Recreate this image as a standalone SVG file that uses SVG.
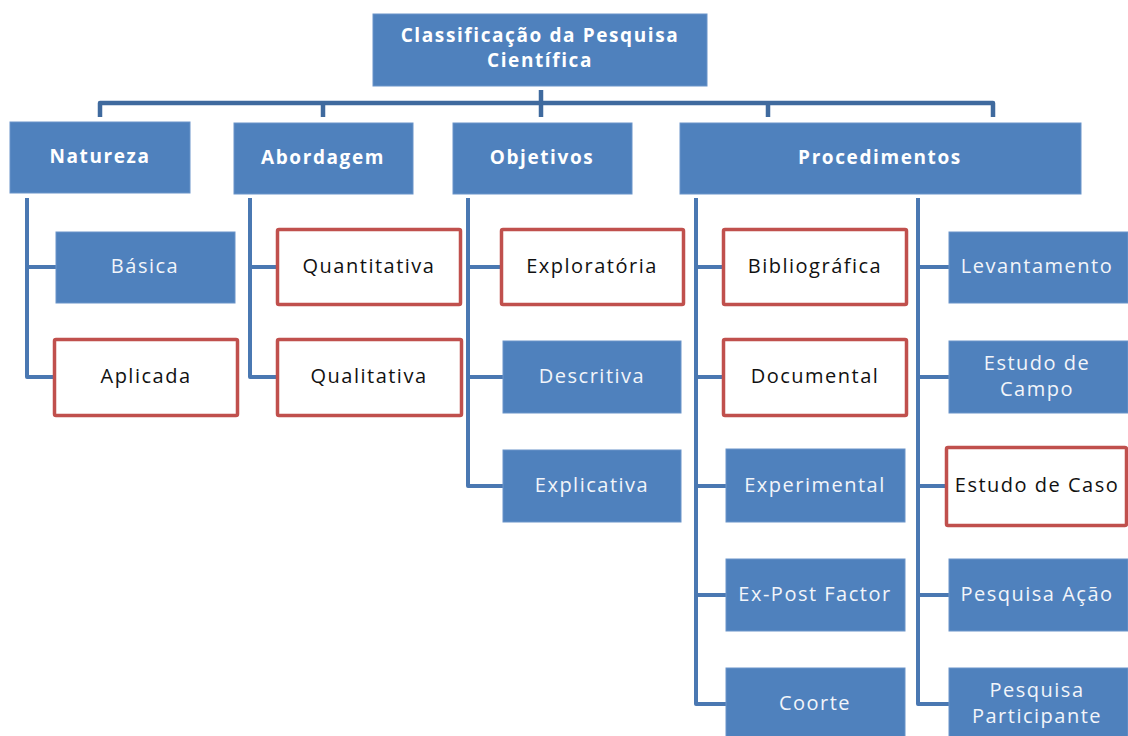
<svg xmlns="http://www.w3.org/2000/svg" width="1128" height="736" viewBox="0 0 1128 736">
<style>
.bx{fill:#4F81BD;stroke:#6A94C9;stroke-width:1}
.rb{fill:#FFFFFF;stroke:#C0504D;stroke-width:3.5}
.hd{font-family:"Open Sans","Liberation Sans",sans-serif;font-weight:bold;font-size:19px;letter-spacing:1.6px;fill:#FFFFFF;text-anchor:middle}
.wt{font-family:"Open Sans","Liberation Sans",sans-serif;font-size:20px;letter-spacing:1.5px;fill:#F2F5FA;text-anchor:middle}
.bt{font-family:"Open Sans","Liberation Sans",sans-serif;font-size:20px;letter-spacing:1.5px;fill:#111111;text-anchor:middle}
.cn{fill:none;stroke:#4A78B2;stroke-width:4;stroke-linejoin:round}
.bus{fill:none;stroke:#3F6A9E;stroke-width:4.5;stroke-linejoin:round}
</style>
<rect width="1128" height="736" fill="#FFFFFF"/>
<g id="connectors">
<path class="bus" d="M541 90 V117"/>
<path class="bus" d="M100 117 V103 H993 V117"/>
<path class="bus" d="M323 103 V117 M768 103 V117"/>
<path class="cn" d="M27 198 V377 H53 M27 267 H56"/>
<path class="cn" d="M250 198 V377 H276 M250 267 H276"/>
<path class="cn" d="M468 198 V486 H503 M468 267 H500 M468 377 H503"/>
<path class="cn" d="M696 198 V704 H726 M696 267 H722 M696 377 H722 M696 486 H726 M696 595 H726"/>
<path class="cn" d="M918 198 V704 H949 M918 267 H949 M918 377 H949 M918 486 H945 M918 595 H949"/>
</g>
<g id="root"><rect class="bx" x="373" y="14" width="334" height="72"/><text class="hd" x="540" y="42">Classificação da Pesquisa</text><text class="hd" x="540" y="67">Científica</text></g>
<g id="natureza"><rect class="bx" x="10" y="122" width="180" height="71"/><text class="hd" x="100" y="163">Natureza</text></g>
<g id="abordagem"><rect class="bx" x="234" y="123" width="179" height="71"/><text class="hd" x="323" y="164">Abordagem</text></g>
<g id="objetivos"><rect class="bx" x="453" y="123" width="179" height="71"/><text class="hd" x="542" y="164">Objetivos</text></g>
<g id="procedimentos"><rect class="bx" x="680" y="123" width="401" height="71"/><text class="hd" x="880" y="164">Procedimentos</text></g>
<g id="basica"><rect class="bx" x="56" y="232" width="179" height="71"/><text class="wt" x="145" y="273">Básica</text></g>
<g id="aplicada"><rect class="rb" x="54.5" y="339.5" width="183" height="76" rx="1.5"/><text class="bt" x="146" y="383">Aplicada</text></g>
<g id="quantitativa"><rect class="rb" x="277.5" y="229.5" width="183" height="75" rx="1.5"/><text class="bt" x="369" y="273">Quantitativa</text></g>
<g id="qualitativa"><rect class="rb" x="277.5" y="339.5" width="184" height="76" rx="1.5"/><text class="bt" x="369" y="383">Qualitativa</text></g>
<g id="exploratoria"><rect class="rb" x="501.5" y="229.5" width="182" height="75" rx="1.5"/><text class="bt" x="592" y="273">Exploratória</text></g>
<g id="descritiva"><rect class="bx" x="503" y="341" width="178" height="72"/><text class="wt" x="592" y="383">Descritiva</text></g>
<g id="explicativa"><rect class="bx" x="503" y="450" width="178" height="72"/><text class="wt" x="592" y="492">Explicativa</text></g>
<g id="bibliografica"><rect class="rb" x="723.5" y="229.5" width="183" height="75" rx="1.5"/><text class="bt" x="815" y="273">Bibliográfica</text></g>
<g id="documental"><rect class="rb" x="723.5" y="339.5" width="183" height="76" rx="1.5"/><text class="bt" x="815" y="383">Documental</text></g>
<g id="experimental"><rect class="bx" x="726" y="449" width="179" height="73"/><text class="wt" x="815" y="492">Experimental</text></g>
<g id="expostfactor"><rect class="bx" x="726" y="559" width="179" height="72"/><text class="wt" x="815" y="601">Ex-Post Factor</text></g>
<g id="coorte"><rect class="bx" x="726" y="668" width="179" height="72"/><text class="wt" x="815" y="710">Coorte</text></g>
<g id="levantamento"><rect class="bx" x="949" y="232" width="179" height="71"/><text class="wt" x="1037" y="273">Levantamento</text></g>
<g id="estudodecampo"><rect class="bx" x="949" y="341" width="179" height="72"/><text class="wt" x="1037" y="370">Estudo de</text><text class="wt" x="1037" y="396">Campo</text></g>
<g id="estudodecaso"><rect class="rb" x="946.5" y="447.5" width="180" height="78" rx="1.5"/><text class="bt" x="1037" y="492">Estudo de Caso</text></g>
<g id="pesquisaacao"><rect class="bx" x="949" y="559" width="179" height="72"/><text class="wt" x="1037" y="601">Pesquisa Ação</text></g>
<g id="pesquisaparticipante"><rect class="bx" x="949" y="668" width="179" height="72"/><text class="wt" x="1037" y="697">Pesquisa</text><text class="wt" x="1037" y="723">Participante</text></g>
</svg>
